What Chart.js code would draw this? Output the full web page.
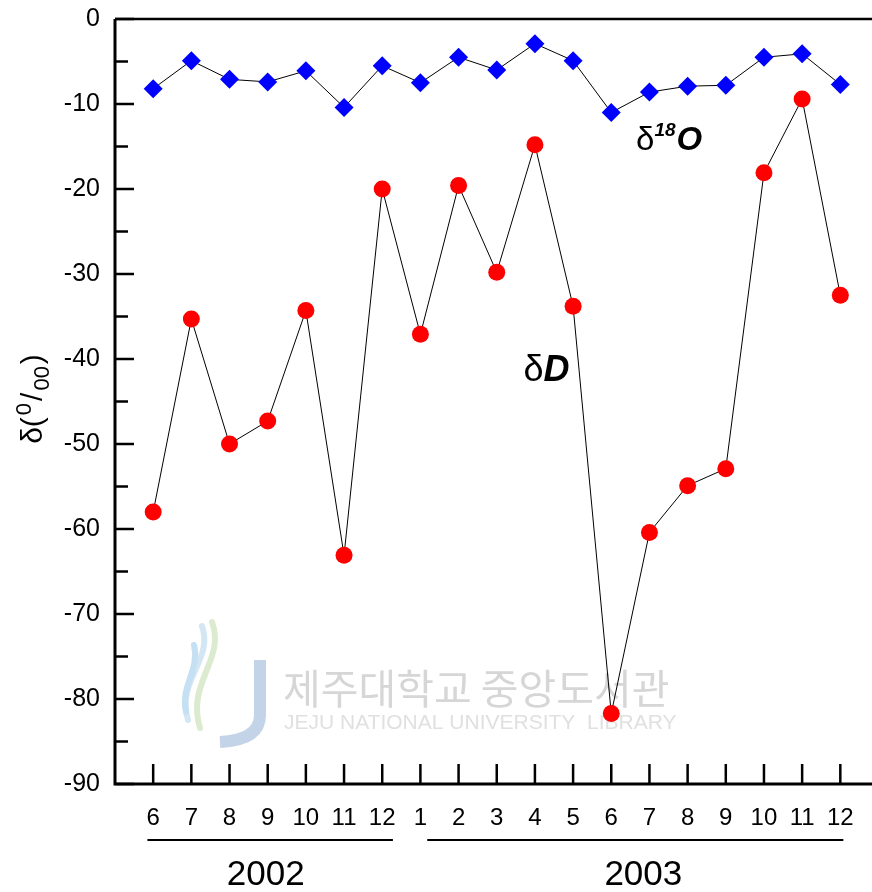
<!DOCTYPE html>
<html>
<head>
<meta charset="utf-8">
<script src="https://cdn.jsdelivr.net/npm/chart.js@4"></script>
<style>
  body { margin: 0; background: #fff; }
  #wrap { width: 872px; height: 892px; }
</style>
</head>
<body>
<div id="wrap"><canvas id="myChart" width="872" height="892"></canvas></div>
<script>
// month ticks along the bottom (Jun 2002 .. Dec 2003)
const months = ['6','7','8','9','10','11','12','1','2','3','4','5','6','7','8','9','10','11','12'];
const years = ['2002', '2003'];
const yearFirst = [1, 8];
const yearLast = [7, 19];

// delta 18O and delta D (per mil)
const d18O = [-8.2, -4.9, -7.1, -7.4, -6.1, -10.4, -5.5, -7.5, -4.5, -6.0, -2.9, -4.9, -11.0, -8.6, -7.9, -7.8, -4.5, -4.1, -7.7];
const dD = [-58.0, -35.3, -50.0, -47.3, -34.3, -63.1, -20.0, -37.1, -19.6, -29.8, -14.8, -33.8, -81.7, -60.4, -54.9, -52.9, -18.1, -9.4, -32.5];

const yTicks = [0, -10, -20, -30, -40, -50, -60, -70, -80, -90];

const FONT = '"Liberation Sans", Arial, sans-serif';

let decor = {
  id: 'decor',
  beforeDatasetsDraw(chart) {
    const ctx = chart.ctx;
    const a = chart.chartArea;
    const xs = chart.scales.x, ys = chart.scales.y;
    ctx.save();

    // watermark
    let lx = 180, ly = 620;
    ctx.lineCap = 'round';
    ctx.strokeStyle = '#d3e6f3'; ctx.lineWidth = 6;
    ctx.beginPath(); ctx.moveTo(lx + 22, ly + 6); ctx.bezierCurveTo(lx + 34, ly + 40, lx - 4, ly + 60, lx + 8, ly + 100); ctx.stroke();
    ctx.strokeStyle = '#dcebd0';
    ctx.beginPath(); ctx.moveTo(lx + 32, ly + 2); ctx.bezierCurveTo(lx + 46, ly + 40, lx + 6, ly + 62, lx + 20, ly + 108); ctx.stroke();
    ctx.strokeStyle = '#c4e0f2';
    ctx.beginPath(); ctx.moveTo(lx + 14, ly + 25); ctx.bezierCurveTo(lx + 20, ly + 50, lx, ly + 66, lx + 6, ly + 92); ctx.stroke();
    ctx.strokeStyle = '#c3d3e8'; ctx.lineWidth = 12; ctx.lineCap = 'butt';
    ctx.beginPath(); ctx.moveTo(lx + 80, ly + 40); ctx.lineTo(lx + 80, ly + 95);
    ctx.quadraticCurveTo(lx + 80, ly + 120, lx + 40, ly + 122); ctx.stroke();
    ctx.fillStyle = '#d6d6d6';
    ctx.font = '41px "Noto Sans CJK KR"';
    ctx.textBaseline = 'alphabetic';
    ctx.textAlign = 'left';
    ctx.fillText('제주대학교 중앙도서관', 283, 704);
    ctx.font = '21px ' + FONT;
    ctx.fillStyle = '#e0e0e0';
    ctx.fillText('JEJU NATIONAL UNIVERSITY  LIBRARY', 284, 729);

    // axes frame
    ctx.strokeStyle = '#000';
    ctx.lineCap = 'butt';
    ctx.lineWidth = 3;
    ctx.beginPath();
    ctx.moveTo(a.left, a.top); ctx.lineTo(a.left, a.bottom);
    ctx.moveTo(a.left - 1.5, a.bottom); ctx.lineTo(a.right, a.bottom);
    ctx.stroke();
    ctx.lineWidth = 2.5;
    ctx.beginPath(); ctx.moveTo(a.left, a.top); ctx.lineTo(a.right, a.top); ctx.stroke();

    // y ticks (inside), minor every 5
    ctx.lineWidth = 2.5;
    for (let v = -90; v <= 0; v += 5) {
      const py = ys.getPixelForValue(v);
      const len = v % 10 === 0 ? 19 : 13;
      ctx.beginPath(); ctx.moveTo(a.left, py); ctx.lineTo(a.left + len, py); ctx.stroke();
    }
    // x ticks (inside)
    for (let i = 1; i <= months.length; i++) {
      const px = xs.getPixelForValue(i);
      ctx.beginPath(); ctx.moveTo(px, a.bottom); ctx.lineTo(px, a.bottom - 20); ctx.stroke();
    }

    // year groups
    const from = [-0.15, 0.18], to = [0.28, 0.08], mid = [3.95, 13.84];
    ctx.lineWidth = 2;
    ctx.fillStyle = '#000';
    ctx.font = '35px ' + FONT;
    ctx.textAlign = 'center';
    ctx.textBaseline = 'middle';
    years.forEach((yr, k) => {
      const x1 = xs.getPixelForValue(yearFirst[k] + from[k]);
      const x2 = xs.getPixelForValue(yearLast[k] + to[k]);
      ctx.beginPath(); ctx.moveTo(x1, 840); ctx.lineTo(x2, 840); ctx.stroke();
      ctx.fillText(yr, xs.getPixelForValue(mid[k]), 875);
    });

    // y title  δ(0/00)
    ctx.translate(31, 398);
    ctx.rotate(-Math.PI / 2);
    ctx.textAlign = 'left';
    ctx.textBaseline = 'alphabetic';
    let parts = [['δ(', 30, 0], ['0', 22, -11], ['/', 30, 0], ['00', 22, 7], [')', 30, 0]];
    let total = 0;
    parts.forEach(p => { ctx.font = p[1] + 'px ' + FONT; total += ctx.measureText(p[0]).width + 2; });
    let cx = -total / 2;
    parts.forEach(p => {
      ctx.font = p[1] + 'px ' + FONT;
      ctx.fillText(p[0], cx, 11 + p[2]);
      cx += ctx.measureText(p[0]).width + 2;
    });
    ctx.restore();

    // series labels
    ctx.save();
    ctx.fillStyle = '#000';
    ctx.textAlign = 'left';
    ctx.textBaseline = 'alphabetic';
    let ox = xs.getPixelForValue(13.65), oy = ys.getPixelForValue(-15.4);
    ctx.font = '33px ' + FONT;
    ctx.fillText('δ', ox, oy);
    ox += ctx.measureText('δ').width;
    ctx.font = 'italic bold 19px ' + FONT;
    ctx.fillText('18', ox, oy - 14);
    ox += ctx.measureText('18').width + 1;
    ctx.font = 'italic bold 33px ' + FONT;
    ctx.fillText('O', ox, oy);

    let dx = xs.getPixelForValue(10.7), dy = ys.getPixelForValue(-42.6);
    ctx.font = '36px ' + FONT;
    ctx.fillText('δ', dx, dy);
    dx += ctx.measureText('δ').width;
    ctx.font = 'italic bold 36px ' + FONT;
    ctx.fillText('D', dx, dy);
    ctx.restore();
  }
};

let ctx = document.getElementById('myChart').getContext('2d');
let myChart = new Chart(ctx, {
  type: 'line',
  data: {
    datasets: [{
      label: 'dD',
      data: dD.map((v, i) => ({x: i + 1, y: v})),
      borderColor: '#000',
      borderWidth: 1,
      pointStyle: 'circle',
      pointRadius: 8.5,
      pointBackgroundColor: '#ff0000',
      pointBorderColor: '#ff0000',
      pointBorderWidth: 0,
      tension: 0
    }, {
      label: 'd18O',
      data: d18O.map((v, i) => ({x: i + 1, y: v})),
      borderColor: '#000',
      borderWidth: 1,
      pointStyle: 'rectRot',
      pointRadius: 9.5,
      pointBackgroundColor: '#0000ff',
      pointBorderColor: '#0000ff',
      pointBorderWidth: 0,
      tension: 0
    }]
  },
  options: {
    responsive: false,
    animation: false,
    events: [],
    layout: { autoPadding: false, padding: { top: 19, left: 0, right: 0, bottom: 0 } },
    plugins: { legend: { display: false }, tooltip: { enabled: false } },
    scales: {
      x: {
        type: 'linear',
        min: 0,
        max: 19.83,
        grid: { display: false, drawTicks: false },
        border: { display: false },
        afterFit: s => { s.height = 108; s.paddingLeft = 0; s.paddingRight = 0; },
        ticks: {
          stepSize: 1,
          includeBounds: false,
          autoSkip: false,
          maxRotation: 0,
          padding: 20,
          color: '#000',
          font: { family: FONT, size: 24 },
          callback: v => (Number.isInteger(v) && v >= 1 && v <= months.length) ? months[v - 1] : ''
        }
      },
      y: {
        min: -90,
        max: 0,
        afterFit: s => { s.width = 115; s.paddingTop = 0; s.paddingBottom = 0; },
        grid: { display: false, drawTicks: false },
        border: { display: false },
        afterBuildTicks: s => { s.ticks = yTicks.map(v => ({value: v})); },
        ticks: {
          autoSkip: false,
          padding: 15,
          color: '#000',
          font: { family: FONT, size: 25 }
        }
      }
    }
  },
  plugins: [decor]
});
</script>
</body>
</html>
